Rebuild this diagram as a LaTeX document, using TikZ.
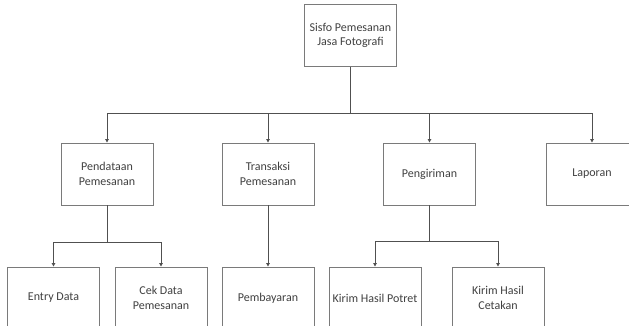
\documentclass[tikz,border=0pt]{standalone}
\usepackage{fontspec}
\setmainfont{Carlito}
\usetikzlibrary{arrows.meta}
\definecolor{boxline}{HTML}{7A7A7A}
\definecolor{wire}{HTML}{505050}
\definecolor{txt}{HTML}{404040}
\tikzset{
  menubox/.style={draw=boxline, line width=0.9pt, fill=white, minimum width=92pt,
    minimum height=62pt, inner sep=0pt, align=center, text=txt,
    font=\fontsize{12}{14.5}\selectfont},
  link/.style={draw=wire, line width=0.9pt, -{Triangle[length=3.5pt,width=3.5pt]}},
  plain/.style={draw=wire, line width=0.9pt}
}
\begin{document}
\begin{tikzpicture}[x=1pt,y=-1pt]
\useasboundingbox (0,0) rectangle (629,326);
\clip (0,0) rectangle (629,326);
\fill[white] (0,0) rectangle (629,326);

% root
\node[menubox] (root) at (350.5,35.5) {Sisfo Pemesanan\\Jasa Fotografi};

% second level
\node[menubox] (pend) at (107,174) {Pendataan\\Pemesanan};
\node[menubox] (trans) at (268,174) {Transaksi\\Pemesanan};
\node[menubox] (kirim) at (429.5,174) {Pengiriman};
\node[menubox] (lap) at (592,174) {Laporan};

% third level
\node[menubox] (entry) at (53.5,298) {Entry Data};
\node[menubox] (cek) at (161,298) {Cek Data\\Pemesanan};
\node[menubox] (bayar) at (268,298) {Pembayaran};
\node[menubox] (potret) at (375,298) {Kirim Hasil Potret};
\node[menubox] (cetak) at (498,298) {Kirim Hasil\\Cetakan};

% root to second level
\coordinate (bus) at (350.5,113);
\draw[plain] (root.south) -- (bus);
\draw[link] (bus) -| (pend.north);
\draw[link] (bus) -| (trans.north);
\draw[link] (bus) -| (kirim.north);
\draw[link] (bus) -| (lap.north);

% Pendataan branch
\coordinate (pbus) at (107,242);
\draw[plain] (pend.south) -- (pbus);
\draw[link] (pbus) -| (entry.north);
\draw[link] (pbus) -| (cek.north);

% Transaksi branch
\draw[link] (trans.south) -- (bayar.north);

% Pengiriman branch
\coordinate (kbus) at (429.5,241);
\draw[plain] (kirim.south) -- (kbus);
\draw[link] (kbus) -| (potret.north);
\draw[link] (kbus) -| (cetak.north);
\end{tikzpicture}
\end{document}
